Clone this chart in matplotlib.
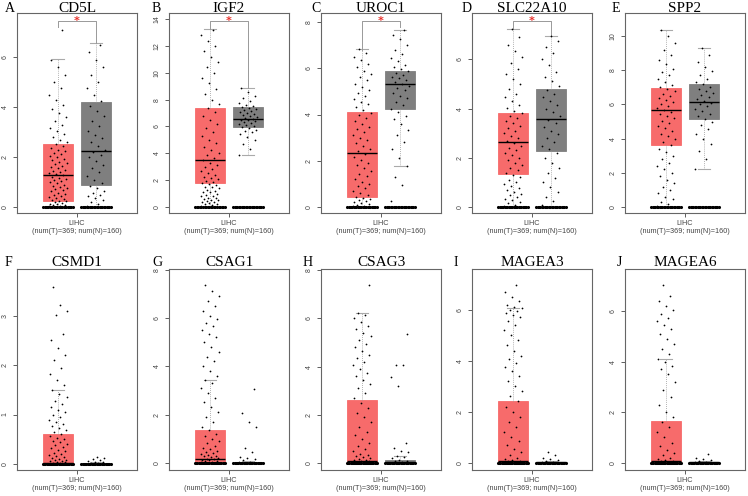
import numpy as np
import matplotlib.pyplot as plt

# panel letters and genes
letters = ["A", "B", "C", "D", "E", "F", "G", "H", "I", "J"]
genes = ["CD5L", "IGF2", "UROC1", "SLC22A10", "SPP2",
         "CSMD1", "CSAG1", "CSAG3", "MAGEA3", "MAGEA6"]
xlabel = "LIHC\n(num(T)=369; num(N)=160)"

# box stats: lower whisker, q1, median, q3, upper whisker
tumor_stats = [
    [0.0, 0.25, 1.28, 2.52, 5.93],
    [0.1, 1.76, 3.48, 7.35, 13.23],
    [0.0, 0.45, 2.32, 4.10, 6.83],
    [0.0, 1.36, 2.65, 3.83, 7.22],
    [0.0, 3.65, 5.65, 6.98, 10.33],
    [0.0, 0.0, 0.03, 0.60, 1.49],
    [0.0, 0.0, 0.14, 1.36, 3.44],
    [0.0, 0.0, 0.11, 2.60, 6.23],
    [0.0, 0.0, 0.06, 2.42, 6.07],
    [0.0, 0.0, 0.05, 1.67, 4.12],
]
normal_stats = [
    [0.0, 0.87, 2.25, 4.21, 6.55],
    [3.87, 5.93, 6.53, 7.42, 8.84],
    [1.77, 4.23, 5.32, 5.90, 7.66],
    [0.0, 2.28, 3.57, 4.78, 6.95],
    [2.24, 5.17, 6.14, 7.17, 9.30],
    [0.0, 0.0, 0.01, 0.02, 0.05],
    [0.0, 0.0, 0.01, 0.04, 0.08],
    [0.0, 0.0, 0.04, 0.14, 0.30],
    [0.0, 0.0, 0.01, 0.03, 0.07],
    [0.0, 0.0, 0.01, 0.03, 0.07],
]

# samples read off the jitter (approximate), plus count of samples sitting at 0
tumor_zeros = [24, 20, 24, 24, 22, 28, 28, 28, 28, 28]
normal_zeros = [22, 22, 22, 22, 22, 24, 24, 24, 24, 24]
tumor_vals = [
    [0.03, 0.05, 0.07, 0.1, 0.12, 0.14, 0.17, 0.2, 0.23, 0.26, 0.3, 0.33, 0.37, 0.41, 0.45, 0.5,
     0.54, 0.58, 0.63, 0.67, 0.72, 0.77, 0.81, 0.86, 0.9, 0.95, 1.0, 1.04, 1.09, 1.13, 1.18,
     1.22, 1.27, 1.32, 1.36, 1.41, 1.46, 1.5, 1.55, 1.6, 1.66, 1.71, 1.77, 1.82, 1.88, 1.93,
     1.99, 2.05, 2.11, 2.17, 2.23, 2.3, 2.37, 2.44, 2.51, 2.6, 2.7, 2.8, 2.92, 3.05, 3.18, 3.3,
     3.45, 3.6, 3.75, 3.92, 4.1, 4.3, 4.5, 4.75, 5.0, 5.3, 5.6, 5.9, 7.1],
    [0.1, 0.15, 0.2, 0.25, 0.3, 0.35, 0.4, 0.45, 0.5, 0.55, 0.6, 0.65, 0.7, 0.78, 0.85, 0.92,
     1.0, 1.08, 1.15, 1.22, 1.3, 1.38, 1.45, 1.52, 1.6, 1.68, 1.76, 1.85, 1.95, 2.05, 2.15,
     2.25, 2.35, 2.5, 2.65, 2.8, 2.95, 3.1, 3.3, 3.48, 3.65, 3.85, 4.05, 4.25, 4.5, 4.75, 5.0,
     5.3, 5.6, 5.9, 6.2, 6.5, 6.8, 7.1, 7.4, 7.7, 8.0, 8.4, 8.8, 9.2, 9.6, 10.0, 10.4, 10.8,
     11.2, 11.6, 12.0, 12.4, 12.8, 13.2],
    [0.03, 0.06, 0.1, 0.13, 0.17, 0.2, 0.25, 0.3, 0.35, 0.4, 0.45, 0.52, 0.6, 0.7, 0.8, 0.9,
     1.0, 1.1, 1.2, 1.32, 1.44, 1.56, 1.68, 1.8, 1.92, 2.04, 2.16, 2.28, 2.4, 2.52, 2.64, 2.76,
     2.88, 3.0, 3.12, 3.24, 3.36, 3.48, 3.6, 3.72, 3.84, 3.96, 4.08, 4.2, 4.32, 4.44, 4.56,
     4.68, 4.8, 4.93, 5.06, 5.2, 5.34, 5.48, 5.62, 5.76, 5.9, 6.05, 6.2, 6.35, 6.5, 6.65, 6.83],
    [0.05, 0.1, 0.15, 0.2, 0.27, 0.34, 0.41, 0.48, 0.55, 0.63, 0.71, 0.79, 0.87, 0.95, 1.03,
     1.12, 1.21, 1.3, 1.4, 1.5, 1.6, 1.7, 1.8, 1.9, 2.0, 2.1, 2.2, 2.3, 2.4, 2.5, 2.6, 2.7, 2.8,
     2.9, 3.0, 3.1, 3.2, 3.3, 3.4, 3.5, 3.6, 3.7, 3.8, 3.9, 4.02, 4.15, 4.3, 4.45, 4.6, 4.8,
     5.0, 5.2, 5.4, 5.6, 5.85, 6.1, 6.35, 6.6, 6.9, 7.22],
    [0.05, 0.15, 0.3, 0.45, 0.6, 0.8, 1.0, 1.2, 1.4, 1.6, 1.8, 2.0, 2.2, 2.4, 2.6, 2.8, 3.0,
     3.2, 3.4, 3.6, 3.8, 4.0, 4.15, 4.3, 4.45, 4.6, 4.75, 4.9, 5.05, 5.2, 5.32, 5.44, 5.56,
     5.68, 5.8, 5.92, 6.04, 6.16, 6.28, 6.4, 6.52, 6.64, 6.76, 6.88, 7.0, 7.15, 7.3, 7.5, 7.7,
     7.9, 8.1, 8.35, 8.6, 8.9, 9.2, 9.6, 10.0, 10.33],
    [0.01, 0.02, 0.03, 0.04, 0.05, 0.06, 0.07, 0.08, 0.09, 0.1, 0.12, 0.14, 0.16, 0.18, 0.2,
     0.23, 0.26, 0.29, 0.32, 0.35, 0.38, 0.41, 0.44, 0.47, 0.5, 0.53, 0.56, 0.6, 0.64, 0.68,
     0.72, 0.76, 0.8, 0.85, 0.9, 0.95, 1.0, 1.05, 1.1, 1.16, 1.22, 1.28, 1.35, 1.42, 1.49, 1.6,
     1.7, 1.82, 1.95, 2.1, 2.2, 2.35, 2.5, 2.62, 3.02, 3.1, 3.22, 3.58],
    [0.02, 0.04, 0.06, 0.08, 0.1, 0.12, 0.14, 0.17, 0.2, 0.23, 0.26, 0.3, 0.34, 0.38, 0.42,
     0.46, 0.5, 0.55, 0.6, 0.7, 0.8, 0.9, 1.0, 1.1, 1.2, 1.35, 1.5, 1.7, 1.9, 2.1, 2.3, 2.5,
     2.7, 2.9, 3.1, 3.3, 3.44, 3.6, 3.8, 4.0, 4.2, 4.4, 4.6, 4.8, 5.0, 5.2, 5.35, 5.5, 5.65,
     5.8, 5.95, 6.1, 6.3, 6.5, 6.7, 6.9, 7.1, 7.36],
    [0.02, 0.04, 0.06, 0.08, 0.1, 0.12, 0.15, 0.18, 0.22, 0.26, 0.3, 0.35, 0.4, 0.5, 0.6, 0.7,
     0.85, 1.0, 1.15, 1.3, 1.5, 1.7, 1.9, 2.1, 2.3, 2.5, 2.7, 2.9, 3.1, 3.3, 3.45, 3.6, 3.75,
     3.9, 4.05, 4.2, 4.35, 4.5, 4.65, 4.8, 4.95, 5.1, 5.25, 5.4, 5.55, 5.7, 5.85, 6.0, 6.12,
     6.23, 7.37],
    [0.02, 0.04, 0.06, 0.08, 0.1, 0.15, 0.2, 0.3, 0.4, 0.55, 0.7, 0.85, 1.0, 1.2, 1.4, 1.6, 1.8,
     2.0, 2.2, 2.4, 2.6, 2.8, 3.0, 3.2, 3.4, 3.6, 3.75, 3.9, 4.05, 4.2, 4.4, 4.6, 4.8, 5.0, 5.2,
     5.4, 5.55, 5.7, 5.8, 5.88, 5.95, 6.0, 6.05, 6.1, 6.2, 6.35, 6.5, 6.7, 6.96],
    [0.02, 0.04, 0.06, 0.08, 0.1, 0.15, 0.2, 0.3, 0.4, 0.5, 0.65, 0.8, 1.0, 1.2, 1.4, 1.6, 1.8,
     2.0, 2.3, 2.6, 2.9, 3.2, 3.5, 3.7, 3.85, 4.0, 4.12, 4.3, 4.5, 4.7, 4.9, 5.1, 5.3, 5.45,
     5.6, 5.75, 5.9, 6.05, 6.2, 6.4, 6.6, 7.03],
]
normal_vals = [
    [0.05, 0.12, 0.2, 0.28, 0.35, 0.43, 0.5, 0.58, 0.66, 0.75, 0.85, 0.95, 1.1, 1.25, 1.4, 1.55,
     1.7, 1.85, 2.0, 2.1, 2.2, 2.3, 2.45, 2.6, 2.75, 2.9, 3.05, 3.25, 3.45, 3.65, 3.85, 4.05,
     4.25, 4.5, 4.75, 5.0, 5.3, 5.6, 5.9, 6.2, 6.5],
    [3.87, 4.3, 4.7, 5.0, 5.2, 5.4, 5.55, 5.65, 5.75, 5.85, 5.93, 6.0, 6.08, 6.15, 6.22, 6.3,
     6.37, 6.45, 6.5, 6.55, 6.6, 6.68, 6.75, 6.82, 6.9, 6.98, 7.05, 7.12, 7.2, 7.28, 7.35, 7.42,
     7.5, 7.6, 7.75, 7.9, 8.1, 8.3, 8.55, 8.84],
    [0.25, 0.94, 1.3, 1.77, 2.1, 2.5, 2.8, 3.1, 3.35, 3.6, 3.8, 3.95, 4.1, 4.25, 4.4, 4.55, 4.7,
     4.82, 4.95, 5.05, 5.15, 5.25, 5.32, 5.4, 5.48, 5.56, 5.64, 5.72, 5.8, 5.88, 5.96, 6.05,
     6.15, 6.3, 6.45, 6.6, 6.8, 7.0, 7.25, 7.45, 7.66],
    [0.1, 0.25, 0.4, 0.6, 0.8, 1.0, 1.2, 1.4, 1.6, 1.8, 2.0, 2.2, 2.35, 2.5, 2.65, 2.8, 2.95,
     3.1, 3.25, 3.4, 3.55, 3.7, 3.85, 4.0, 4.15, 4.3, 4.45, 4.6, 4.75, 4.9, 5.1, 5.3, 5.5, 5.75,
     6.0, 6.25, 6.5, 6.75, 6.95],
    [2.24, 2.8, 3.3, 3.7, 4.0, 4.3, 4.55, 4.8, 5.0, 5.15, 5.3, 5.45, 5.6, 5.75, 5.9, 6.0, 6.1,
     6.2, 6.3, 6.42, 6.55, 6.68, 6.8, 6.92, 7.05, 7.18, 7.32, 7.5, 7.7, 7.95, 8.2, 8.5, 8.9, 9.3],
    [0.01, 0.02, 0.03, 0.04, 0.05, 0.06, 0.08, 0.1, 0.13, 0.15],
    [0.02, 0.05, 0.1, 0.15, 0.2, 0.25, 0.45, 0.6, 1.47, 1.7, 2.05, 3.05],
    [0.03, 0.05, 0.08, 0.1, 0.14, 0.2, 0.25, 0.3, 0.45, 0.5, 0.65, 0.85, 3.18, 3.55, 4.05, 4.07,
     5.33],
    [0.02, 0.03, 0.06, 0.1, 0.15, 0.2, 0.3, 0.4],
    [0.02, 0.03, 0.06, 0.1, 0.15, 0.2, 0.35],
]

# significance bracket: height, left leg end, right leg end (None = not significant)
sig_bracket = [
    (7.45, 7.2, 6.55),
    (13.87, 13.25, 8.85),
    (8.06, 6.8, 7.8),
    (7.57, 7.22, 6.95),
    None, None, None, None, None, None,
]

ylims = [(-0.24, 7.76), (-0.45, 14.45), (-0.26, 8.39), (-0.24, 7.88), (-0.35, 11.35),
         (-0.12, 3.94), (-0.3, 8.03), (-0.28, 8.04), (-0.29, 7.6), (-0.29, 7.68)]
yticks = [[0, 2, 4, 6], list(range(0, 15, 2)), [0, 2, 4, 6, 8], [0, 2, 4, 6], list(range(0, 11, 2)),
          [0, 1, 2, 3], [0, 2, 4, 6, 8], [0, 2, 4, 6, 8], [0, 2, 4, 6], [0, 2, 4, 6]]

RED = "#F76B6B"
GREY = "#7F7F7F"
W, H = 748, 496

fig = plt.figure(figsize=(W / 100, H / 100), dpi=100)

lefts = [17, 169, 321, 472, 625]
rows = [(13, 213), (269, 470)]
letter_x = [5, 152, 311, 462, 612, 5, 152, 303, 454, 617]
title_y = [8, 262]

box_w = 0.79
pos = [1, 2]

for k in range(10):
    r, c = divmod(k, 5)
    top, bot = rows[r]
    ax = fig.add_axes([lefts[c] / W, 1 - bot / H, 120 / W, (bot - top) / H])

    stats = []
    for s in (tumor_stats[k], normal_stats[k]):
        stats.append(dict(whislo=s[0], q1=s[1], med=s[2], q3=s[3], whishi=s[4]))
    bp = ax.bxp(stats, positions=pos, widths=box_w, patch_artist=True, showfliers=False,
                capwidths=0.3,
                whiskerprops=dict(color="#999999", linestyle=(0, (1, 1.5)), linewidth=0.6),
                capprops=dict(color="#AAAAAA", linewidth=0.8),
                medianprops=dict(color="black", linewidth=1.0, zorder=5),
                manage_ticks=False)
    for patch, col in zip(bp["boxes"], [RED, GREY]):
        patch.set_facecolor(col)
        patch.set_edgecolor(col)
        patch.set_linewidth(0.6)
        patch.set_zorder(1)

    # jittered points
    for p, vals, nz in ((pos[0], tumor_vals[k], tumor_zeros[k]),
                        (pos[1], normal_vals[k], normal_zeros[k])):
        v = np.array(vals)
        frac = (np.arange(len(v)) * 0.618034) % 1.0
        xs = p + (frac - 0.5) * box_w * 0.62
        ax.scatter(xs, v, s=1.6, color="black", linewidths=0, zorder=4)
        xz = np.linspace(p - box_w * 0.49, p + box_w * 0.49, nz)
        ax.scatter(xz, np.zeros(nz), s=5, color="black", linewidths=0, zorder=4)

    # significance bracket
    if sig_bracket[k] is not None:
        yb, yl, yr = sig_bracket[k]
        ax.plot([pos[0], pos[0], pos[1], pos[1]], [yl, yb, yb, yr],
                color="#999999", linewidth=0.7, zorder=3)
        ax.text(1.5, yb, "*", color="#E8302A", ha="center", va="center",
                fontsize=8, fontweight="bold", zorder=6)

    ax.set_xlim(-0.079, 3.079)
    ax.set_ylim(*ylims[k])
    ax.set_yticks(yticks[k])
    ax.set_yticklabels([str(t) for t in yticks[k]], rotation=90, va="center",
                       fontsize=5, family="Liberation Sans")
    ax.set_xticks([1.5])
    ax.set_xticklabels([xlabel], fontsize=5.2, family="Liberation Sans", linespacing=1.3)
    ax.tick_params(direction="out", length=3, width=0.6, colors="#444444", pad=2)
    ax.tick_params(axis="y", pad=3)
    for sp in ax.spines.values():
        sp.set_color("#666666")
        sp.set_linewidth(0.8)

    cx = (lefts[c] + 60) / W
    ty = 1 - title_y[r] / H
    fig.text(cx, ty, genes[k], ha="center", va="center", fontsize=11,
             family="Liberation Serif")
    fig.text(letter_x[k] / W, ty, letters[k], ha="left", va="center", fontsize=10,
             family="Liberation Serif")

fig.savefig("out.png", dpi=100)
